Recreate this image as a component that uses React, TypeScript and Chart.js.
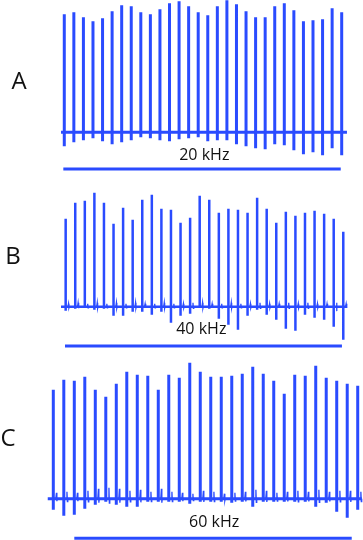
import React, { useEffect, useRef } from "react";
import { Chart, registerables } from "chart.js";

Chart.register(...registerables);

const BLUE = "#2a4bff";

// spike times (ms) for every panel
const spikeTimes = [0, 100, 200, 300, 400, 500, 600, 700, 800, 900, 1000, 1100, 1200, 1300, 1400, 1500, 1600, 1700, 1800, 1900, 2000, 2100, 2200, 2300, 2400, 2500, 2600, 2700, 2800, 2900];

// Panel A (20 kHz) amplitudes (a.u.)
const peaksA = [118, 120, 115, 111, 114, 121, 127, 126, 120, 118, 123, 129, 131, 126, 120, 117, 126, 132, 128, 121, 115, 115, 126, 129, 122, 111, 112, 113, 124, 120];
const troughsA = [-14, -10, -8, -6, -9, -12, -10, -8, -5, -6, -8, -9, -7, -6, -5, -9, -8, -8, -12, -14, -16, -17, -12, -13, -18, -22, -20, -23, -16, -23];
const artsA = [0, 0, 0, 0, 0, 0, 0, 0, 0, 0, 0, 0, 0, 0, 0, 0, 0, 0, 0, 0, 0, 0, 0, 0, 0, 0, 0, 0, 0, 0];

// Panel B (40 kHz)
const peaksB = [88, 104, 106, 114, 104, 83, 99, 87, 107, 112, 98, 97, 84, 89, 111, 107, 94, 98, 97, 94, 109, 98, 84, 95, 91, 94, 96, 93, 88, 75];
const troughsB = [-4, -2, -1, -3, -2, -9, -9, -5, -5, -8, -5, -16, -9, -7, -1, -2, -12, -18, -23, -9, -3, -8, -13, -22, -24, -8, -11, -13, -20, -33];
const artsB = [3, 4, 3, 4, 3, 4, 3, 4, 3, 3, 4, 3, 3, 4, 4, 3, 3, 4, 3, 3, 4, 3, 3, 4, 3, 4, 3, 3, 4, 3];

// Panel C (60 kHz)
const peaksC = [109, 119, 118, 122, 109, 102, 115, 127, 124, 123, 109, 124, 121, 136, 127, 122, 122, 123, 125, 132, 125, 118, 105, 124, 123, 133, 121, 118, 115, 113];
const troughsC = [-11, -17, -16, -10, -6, -3, -6, -8, -8, -3, -3, -3, -3, -5, -3, -3, -3, -4, -3, -8, -3, -3, -3, -3, -3, -8, -4, -13, -19, -11];
const artsC = [6, 7, 6, 8, 10, 11, 10, 8, 9, 7, 10, 7, 6, 5, 8, 7, 5, 6, 7, 9, 8, 6, 7, 8, 7, 9, 7, 8, 8, 7];

const panelLabels = ["A", "B", "C"];
const freqLabels = ["20 kHz", "40 kHz", "60 kHz"];

type PanelCfg = {
  peaks: number[];
  troughs: number[];
  arts: number[];
  traceRange: [number, number];
  barRange: [number, number];
  barLevel: number;
  xRange: [number, number];
  yRange: [number, number];
  width: number;
};

const panels: PanelCfg[] = [
  { peaks: peaksA, troughs: troughsA, arts: artsA, traceRange: [-34, 2955], barRange: [-10, 2890], barLevel: -36.7, xRange: [-672, 3122.7], yRange: [-47.7, 132.3], width: 3 },
  { peaks: peaksB, troughs: troughsB, arts: artsB, traceRange: [-49, 2939], barRange: [-7, 2886], barLevel: -39.3, xRange: [-686, 3106], yRange: [-53.3, 126.7], width: 2.5 },
  { peaks: peaksC, troughs: troughsC, arts: artsC, traceRange: [-53, 2938], barRange: [200, 2843], barLevel: -39.6, xRange: [-507.8, 2950.3], yRange: [-41.3, 138.7], width: 3 },
];

function buildTrace(p: PanelCfg) {
  const pts: { x: number; y: number }[] = [{ x: p.traceRange[0], y: 0 }];
  spikeTimes.forEach((t, i) => {
    pts.push({ x: t, y: 0 });
    pts.push({ x: t, y: p.peaks[i] });
    pts.push({ x: t, y: p.troughs[i] });
    pts.push({ x: t, y: 0 });
  });
  pts.push({ x: p.traceRange[1], y: 0 });
  return pts;
}

function buildArtifacts(p: PanelCfg) {
  const pts: { x: number; y: number | null }[] = [];
  spikeTimes.forEach((t, i) => {
    if (p.arts[i] > 0) {
      pts.push({ x: t + 24, y: 0 });
      pts.push({ x: t + 30, y: p.arts[i] });
      pts.push({ x: t + 34, y: -p.arts[i] * 0.4 });
      pts.push({ x: t + 38, y: 0 });
      pts.push({ x: t + 39, y: null });
    }
  });
  return pts;
}

function Panel({ cfg }: { cfg: PanelCfg }) {
  const ref = useRef<HTMLCanvasElement | null>(null);
  useEffect(() => {
    if (!ref.current) return;
    const chart = new Chart(ref.current, {
      type: "line",
      data: {
        datasets: [
          {
            data: buildArtifacts(cfg) as any,
            borderColor: BLUE,
            borderWidth: 1.3,
            pointRadius: 0,
            tension: 0,
            fill: false,
            spanGaps: false,
            clip: false as any,
          },
          {
            data: buildTrace(cfg),
            borderColor: BLUE,
            borderWidth: cfg.width,
            pointRadius: 0,
            tension: 0,
            fill: false,
            clip: false as any,
            borderJoinStyle: "miter",
          },
          {
            data: [
              { x: cfg.barRange[0], y: cfg.barLevel },
              { x: cfg.barRange[1], y: cfg.barLevel },
            ],
            borderColor: BLUE,
            borderWidth: 3,
            pointRadius: 0,
            fill: false,
            clip: false as any,
          },
        ],
      },
      options: {
        animation: false,
        responsive: false,
        devicePixelRatio: 1,
        layout: { padding: 0 },
        plugins: { legend: { display: false }, tooltip: { enabled: false } },
        events: [],
        scales: {
          x: { type: "linear", display: false, min: cfg.xRange[0], max: cfg.xRange[1] },
          y: { type: "linear", display: false, min: cfg.yRange[0], max: cfg.yRange[1] },
        },
      },
    });
    return () => chart.destroy();
  }, [cfg]);
  return <canvas ref={ref} width={363} height={180} style={{ display: "block", width: 363, height: 180 }} />;
}

const letterPos = [
  { left: 11.5, top: 68 },
  { left: 5.3, top: 243 },
  { left: 0.5, top: 425.2 },
];
const freqPos = [
  { cx: 204.3, top: 145.8 },
  { cx: 201.3, top: 319.8 },
  { cx: 214.2, top: 512.5 },
];

export default function App() {
  return (
    <div style={{ position: "absolute", left: 0, top: 0, width: 363, height: 540, background: "#fff", overflow: "hidden" }}>
      {panels.map((p, i) => (
        <div key={i} style={{ position: "absolute", left: 0, top: i * 180, width: 363, height: 180 }}>
          <Panel cfg={p} />
        </div>
      ))}
      {panelLabels.map((l, i) => (
        <div
          key={"l" + i}
          style={{
            position: "absolute",
            left: letterPos[i].left,
            top: letterPos[i].top,
            fontFamily: "'Open Sans', sans-serif",
            fontSize: 24,
            lineHeight: "24px",
            color: "#111",
            whiteSpace: "nowrap",
          }}
        >
          {l}
        </div>
      ))}
      {freqLabels.map((l, i) => (
        <div
          key={"f" + i}
          style={{
            position: "absolute",
            left: freqPos[i].cx - 50,
            width: 100,
            top: freqPos[i].top,
            textAlign: "center",
            fontFamily: "'Open Sans', sans-serif",
            fontSize: 16,
            lineHeight: "16px",
            color: "#111",
            whiteSpace: "nowrap",
          }}
        >
          {l}
        </div>
      ))}
    </div>
  );
}
